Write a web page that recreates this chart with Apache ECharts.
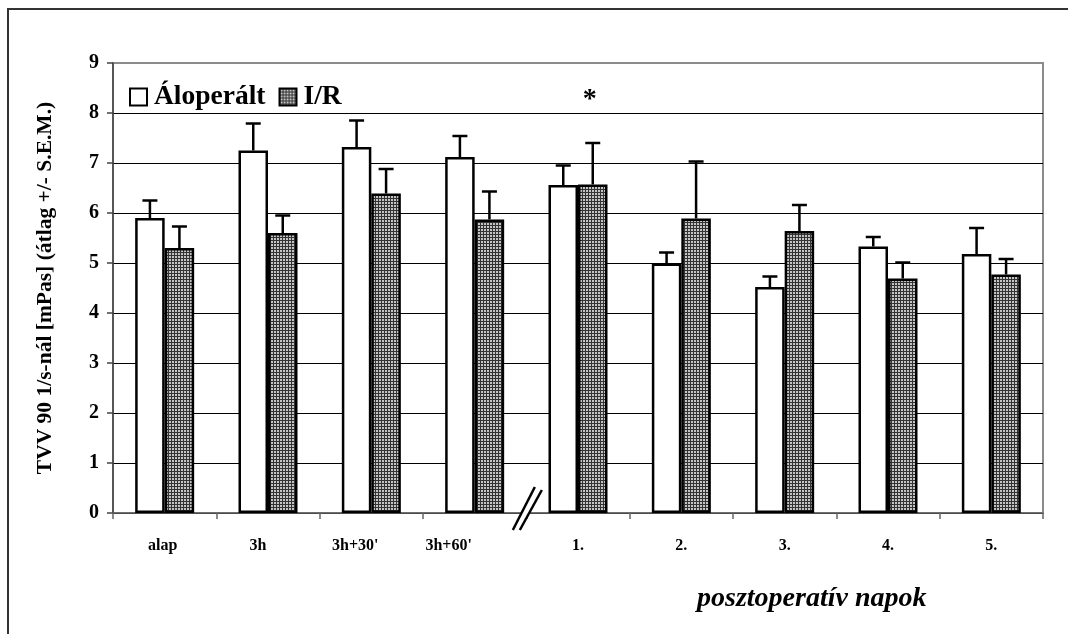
<!DOCTYPE html>
<html>
<head>
<meta charset="utf-8">
<script src="https://cdn.jsdelivr.net/npm/echarts@6/dist/echarts.min.js"></script>
<style>
html,body{margin:0;padding:0;background:#fff;}
#c{width:1068px;height:634px;}
</style>
</head>
<body>
<div id="c"></div>
<script>
const categories = ['alap', '3h', "3h+30'", "3h+60'", '1.', '2.', '3.', '4.', '5.'];
const shamValues = [5.90, 7.25, 7.32, 7.12, 6.56, 4.99, 4.52, 5.33, 5.18];
const shamErrors = [0.35, 0.54, 0.53, 0.42, 0.39, 0.22, 0.21, 0.19, 0.52];
const irValues = [5.30, 5.60, 6.39, 5.87, 6.57, 5.89, 5.64, 4.69, 4.77];
const irErrors = [0.43, 0.35, 0.49, 0.56, 0.83, 1.14, 0.52, 0.32, 0.31];
const yTicks = [0, 1, 2, 3, 4, 5, 6, 7, 8, 9];
const seriesNames = ['Áloperált', 'I/R'];
const yAxisTitle = 'TVV 90 1/s-nál [mPas] (átlag +/- S.E.M.)';
const xAxisTitle = 'posztoperatív napok';

const FONT = '"Liberation Serif", "Times New Roman", serif';
const BAR_W = 29.5;
// left shift (px) of the first labels, as in the reference layout
const labelShift = [2, 10, 16, 26, 0, 0, 0, 0, 0];

// hatched grey pattern for I/R
const pc = document.createElement('canvas');
pc.width = 3; pc.height = 3;
const pctx = pc.getContext('2d');
pctx.fillStyle = '#c4c4c4';
pctx.fillRect(0, 0, 3, 3);
pctx.fillStyle = '#333';
pctx.fillRect(0, 0, 3, 1);
pctx.fillRect(0, 0, 1, 3);
const pattern = { image: pc, repeat: 'repeat' };

function errorSeries(values, errors, offset) {
  return {
    type: 'custom',
    z: 5,
    silent: true,
    data: values.map((v, i) => [i, v, v + errors[i]]),
    renderItem: function (params, api) {
      const base = api.coord([api.value(0), api.value(1)]);
      const top = api.coord([api.value(0), api.value(2)]);
      const x = base[0] + offset;
      const capHalf = 7.5;
      return {
        type: 'group',
        children: [
          { type: 'line', shape: { x1: x, y1: base[1], x2: x, y2: top[1] },
            style: { stroke: '#000', lineWidth: 2.5 } },
          { type: 'line', shape: { x1: x - capHalf, y1: top[1], x2: x + capHalf, y2: top[1] },
            style: { stroke: '#000', lineWidth: 2.5 } }
        ]
      };
    }
  };
}

const chart = echarts.init(document.getElementById('c'), null, { renderer: 'canvas' });

const splitColors = yTicks.map((t, i) => i === yTicks.length - 1 ? '#8c8c8c' : '#000');
const rich = {};
labelShift.forEach((s, i) => {
  rich['l' + i] = { fontFamily: FONT, fontWeight: 'bold', fontSize: 16, color: '#000', padding: [0, 2 * s, 0, 0] };
});

chart.setOption({
  backgroundColor: '#fff',
  animation: false,
  grid: {
    left: 113, right: 25, top: 63, bottom: 121,
    show: true, borderColor: '#8c8c8c', borderWidth: 2, backgroundColor: '#fff'
  },
  legend: {
    left: 124, top: 78,
    icon: 'rect',
    itemWidth: 17, itemHeight: 17, itemGap: 13,
    data: seriesNames,
    textStyle: { fontFamily: FONT, fontWeight: 'bold', fontSize: 27.5, color: '#000', padding: [0, 0, 0, 2] }
  },
  xAxis: {
    type: 'category',
    data: categories,
    axisLine: { lineStyle: { color: '#666', width: 1.5 } },
    axisTick: { show: true, length: 6, lineStyle: { color: '#666', width: 1.5 } },
    axisLabel: {
      margin: 25,
      formatter: function (v, i) { return '{l' + i + '|' + v + '}'; },
      rich: rich
    }
  },
  yAxis: {
    type: 'value',
    min: 0, max: 9, interval: 1,
    name: yAxisTitle,
    nameLocation: 'middle',
    nameGap: 57,
    nameTextStyle: { fontFamily: FONT, fontWeight: 'bold', fontSize: 21.5, color: '#000' },
    axisLine: { show: true, lineStyle: { color: '#444', width: 1.5 } },
    axisTick: { show: true, length: 6, lineStyle: { color: '#444', width: 1.5 } },
    axisLabel: { fontFamily: FONT, fontWeight: 'bold', fontSize: 20, color: '#000', margin: 14 },
    splitLine: { show: true, lineStyle: { color: splitColors, width: 1 } }
  },
  series: [
    {
      name: seriesNames[0], type: 'bar', data: shamValues,
      barWidth: BAR_W, barGap: '0%',
      itemStyle: { color: '#fff', borderColor: '#000', borderWidth: 2.5 },
      z: 3
    },
    {
      name: seriesNames[1], type: 'bar', data: irValues,
      barWidth: BAR_W, barGap: '0%',
      itemStyle: { color: pattern, borderColor: '#000', borderWidth: 2.5 },
      z: 3,
      markPoint: {
        symbol: 'circle', symbolSize: 1,
        itemStyle: { color: 'rgba(0,0,0,0)' },
        label: { show: true, formatter: '*', position: 'inside', offset: [-3, 0],
          fontFamily: FONT, fontWeight: 'bold', fontSize: 28, color: '#000' },
        data: [{ coord: [4, 8.27] }]
      }
    },
    errorSeries(shamValues, shamErrors, -BAR_W / 2),
    errorSeries(irValues, irErrors, BAR_W / 2)
  ]
});

// decorations: outer frame, axis break, x-axis title
const c3 = chart.convertToPixel({ xAxisIndex: 0 }, 3);
const c4 = chart.convertToPixel({ xAxisIndex: 0 }, 4);
const bx = (c3 + c4) / 2;
const y0 = chart.convertToPixel({ yAxisIndex: 0 }, 0);

chart.setOption({
  graphic: [
    { type: 'polyline', z: 100, shape: { points: [[8, 634], [8, 9], [1068, 9]] },
      style: { stroke: '#333', lineWidth: 2, fill: null } },
    { type: 'polygon', z: 100,
      shape: { points: [[bx - 13, y0 + 17], [bx + 9, y0 - 26], [bx + 15, y0 - 23], [bx - 7, y0 + 17]] },
      style: { fill: '#fff' } },
    { type: 'line', z: 101, shape: { x1: bx - 13.5, y1: y0 + 17, x2: bx + 8.5, y2: y0 - 26 },
      style: { stroke: '#000', lineWidth: 2.5 } },
    { type: 'line', z: 101, shape: { x1: bx - 6.5, y1: y0 + 17, x2: bx + 15.5, y2: y0 - 23 },
      style: { stroke: '#000', lineWidth: 2.5 } },
    { type: 'text', z: 100, left: 697, top: 585,
      style: { text: xAxisTitle, font: 'italic bold 28px ' + FONT, fill: '#000' } }
  ]
});
</script>
</body>
</html>
